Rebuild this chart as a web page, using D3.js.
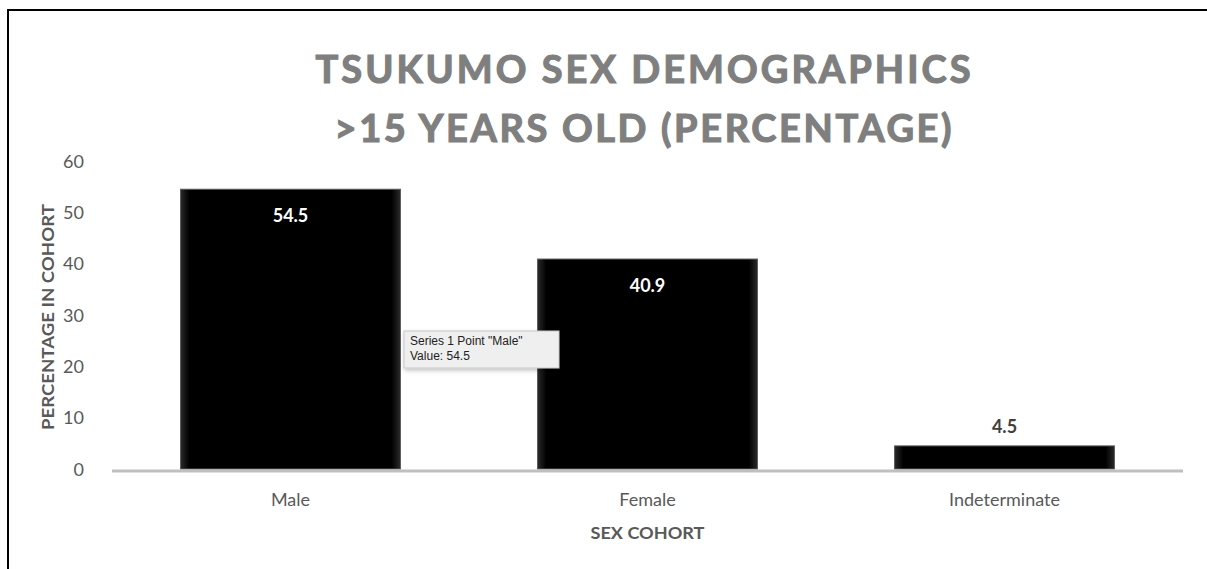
<!DOCTYPE html>
<html>
<head>
<meta charset="utf-8">
<script src="https://cdn.jsdelivr.net/npm/d3@7"></script>
<style>
  html, body { margin: 0; padding: 0; background: #fff; }
  svg { display: block; }
</style>
</head>
<body>
<svg id="chart" width="1207" height="569"></svg>
<script>
// Chart data
const categories = ["Male", "Female", "Indeterminate"];
const values = [54.5, 40.9, 4.5];
const yTicks = [0, 10, 20, 30, 40, 50, 60];
const titleLines = ["TSUKUMO SEX DEMOGRAPHICS", ">15 YEARS OLD (PERCENTAGE)"];
const yAxisTitle = "PERCENTAGE IN COHORT";
const xAxisTitle = "SEX COHORT";
const tooltipLines = ["Series 1 Point \"Male\"", "Value: 54.5"];

const font = "Lato, 'Open Sans', 'DejaVu Sans', sans-serif";
const svg = d3.select("#chart");

// Frame around the chart area
svg.append("path")
  .attr("d", "M8,600 L8,10 L1220,10")
  .attr("fill", "none")
  .attr("stroke", "#000")
  .attr("stroke-width", 2);

const plot = { left: 112, right: 1183, top: 161, bottom: 469 };

const x = d3.scaleBand()
  .domain(categories)
  .range([plot.left, plot.right])
  .paddingInner(0.384)
  .paddingOuter(0.192);

const y = d3.scaleLinear()
  .domain([0, 60])
  .range([plot.bottom, plot.top]);

// Bar shading: dark edges fading to black in the middle
const defs = svg.append("defs");
const gradH = defs.append("linearGradient").attr("id", "barShadeH");
gradH.append("stop").attr("offset", "0%").attr("stop-color", "#2a2a2a");
gradH.append("stop").attr("offset", "4%").attr("stop-color", "#000");
gradH.append("stop").attr("offset", "96%").attr("stop-color", "#000");
gradH.append("stop").attr("offset", "100%").attr("stop-color", "#2a2a2a");

const shadow = defs.append("filter").attr("id", "tipShadow")
  .attr("x", "-10%").attr("y", "-20%").attr("width", "130%").attr("height", "160%");
shadow.append("feDropShadow").attr("dx", 1).attr("dy", 2).attr("stdDeviation", 2)
  .attr("flood-color", "#000").attr("flood-opacity", 0.25);

// Title
svg.append("g").selectAll("text")
  .data(titleLines)
  .join("text")
  .attr("x", 643)
  .attr("y", (d, i) => 83 + i * 59)
  .attr("text-anchor", "middle")
  .attr("font-family", font)
  .attr("font-weight", "bold")
  .attr("font-size", 38)
  .attr("fill", "#7f7f7f")
  .attr("stroke", "#7f7f7f")
  .attr("stroke-width", 1.2)
  .attr("textLength", (d, i) => i === 0 ? 655 : 617)
  .attr("lengthAdjust", "spacing")
  .text(d => d);

// Y axis tick labels
const yAxis = d3.axisLeft(y).tickValues(yTicks).tickSize(0).tickPadding(0);
const yG = svg.append("g")
  .attr("transform", `translate(84,0)`)
  .call(yAxis);
yG.select(".domain").remove();
yG.selectAll("text")
  .attr("font-family", font)
  .attr("font-size", 18)
  .attr("fill", "#595959")
  .attr("dy", "0.35em");

// Bars
svg.append("g").selectAll("rect")
  .data(values)
  .join("rect")
  .attr("x", (d, i) => x(categories[i]))
  .attr("y", d => y(d))
  .attr("width", x.bandwidth())
  .attr("height", d => y(0) - y(d))
  .attr("fill", "url(#barShadeH)")
  .attr("stroke", "#5a5a5a")
  .attr("stroke-width", 1);

// Baseline
svg.append("line")
  .attr("x1", plot.left).attr("x2", plot.right)
  .attr("y1", y(0) + 2).attr("y2", y(0) + 2)
  .attr("stroke", "#bfbfbf")
  .attr("stroke-width", 3);

// X axis category labels
const xAxis = d3.axisBottom(x).tickSize(0).tickPadding(0);
const xG = svg.append("g")
  .attr("transform", `translate(0,${y(0) + 37})`)
  .call(xAxis);
xG.select(".domain").remove();
xG.selectAll("text")
  .attr("font-family", font)
  .attr("font-size", 18)
  .attr("fill", "#595959")
  .attr("dy", "0");

// Value labels: inside the bar when tall enough, above it otherwise
svg.append("g").selectAll("text")
  .data(values)
  .join("text")
  .attr("x", (d, i) => x(categories[i]) + x.bandwidth() / 2)
  .attr("y", d => (y(0) - y(d) > 40) ? y(d) + 33 : y(d) - 13)
  .attr("text-anchor", "middle")
  .attr("font-family", font)
  .attr("font-weight", "bold")
  .attr("font-size", 18)
  .attr("fill", d => (y(0) - y(d) > 40) ? "#ffffff" : "#404040")
  .text(d => d.toFixed(1));

// Axis titles
svg.append("text")
  .attr("transform", `translate(54,317) rotate(-90)`)
  .attr("text-anchor", "middle")
  .attr("font-family", font)
  .attr("font-weight", "bold")
  .attr("font-size", 17)
  .attr("fill", "#595959")
  .attr("textLength", 226)
  .attr("lengthAdjust", "spacingAndGlyphs")
  .text(yAxisTitle);

svg.append("text")
  .attr("x", x("Female") + x.bandwidth() / 2)
  .attr("y", 539)
  .attr("text-anchor", "middle")
  .attr("font-family", font)
  .attr("font-weight", "bold")
  .attr("font-size", 17)
  .attr("fill", "#595959")
  .attr("textLength", 114)
  .attr("lengthAdjust", "spacingAndGlyphs")
  .text(xAxisTitle);

// Hover tooltip for the Male bar
const tip = svg.append("g").attr("transform", "translate(404,331)");
tip.append("rect")
  .attr("width", 155).attr("height", 37)
  .attr("fill", "#efefef")
  .attr("stroke", "#c8c8c8")
  .attr("stroke-width", 1)
  .attr("filter", "url(#tipShadow)");
tip.selectAll("text")
  .data(tooltipLines)
  .join("text")
  .attr("x", 6)
  .attr("y", (d, i) => 14 + i * 15)
  .attr("font-family", "'Liberation Sans', Arial, sans-serif")
  .attr("font-size", 12)
  .attr("fill", "#222")
  .text(d => d);
</script>
</body>
</html>
